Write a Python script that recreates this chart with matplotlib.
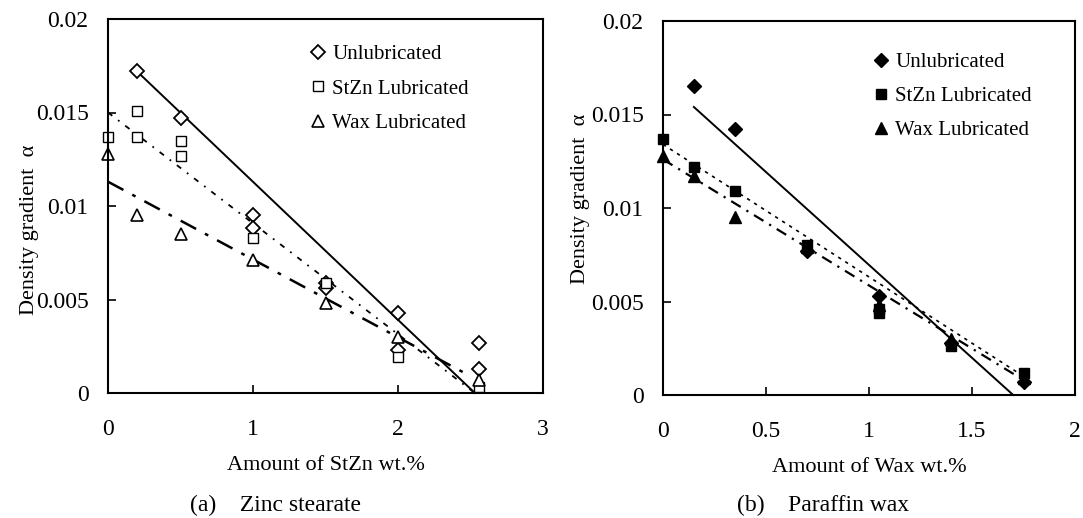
import matplotlib
matplotlib.use("Agg")
import matplotlib.pyplot as plt

plt.rcParams['font.family'] = ['Liberation Serif', 'DejaVu Serif']

# (a) zinc stearate
a_unlub_x = [0.2, 0.5, 1, 1, 1.5, 1.5, 2, 2, 2.56, 2.56]
a_unlub_y = [0.0172, 0.0147, 0.0095, 0.0088, 0.0059, 0.0056, 0.0043, 0.0023, 0.0027, 0.0013]
a_stzn_x = [0, 0.2, 0.2, 0.5, 0.5, 1, 1.5, 2, 2.56]
a_stzn_y = [0.0137, 0.0151, 0.0137, 0.0135, 0.0127, 0.0083, 0.0059, 0.0019, 0.0003]
a_wax_x = [0, 0.2, 0.5, 1, 1.5, 2, 2.56]
a_wax_y = [0.0128, 0.0095, 0.0085, 0.0071, 0.0048, 0.0030, 0.0007]
# trend lines (end points)
a_unlub_fit_x = [0.2, 2.53]
a_unlub_fit_y = [0.0172, 0.0]
a_stzn_fit_x = [0, 2.53]
a_stzn_fit_y = [0.0150, 0.0]
a_wax_fit_x = [0, 2.5]
a_wax_fit_y = [0.0113, 0.0009]

# (b) paraffin wax
b_unlub_x = [0.15, 0.35, 0.7, 1.05, 1.4, 1.75]
b_unlub_y = [0.0165, 0.0142, 0.0077, 0.0053, 0.0028, 0.0007]
b_stzn_x = [0, 0.15, 0.35, 0.7, 1.05, 1.05, 1.4, 1.75]
b_stzn_y = [0.0137, 0.0122, 0.0109, 0.0080, 0.0046, 0.0044, 0.0026, 0.0012]
b_wax_x = [0, 0.15, 0.35, 0.7, 1.05, 1.4, 1.75]
b_wax_y = [0.0128, 0.0117, 0.0095, 0.0079, 0.0048, 0.0030, 0.0009]
b_unlub_fit_x = [0.15, 1.70]
b_unlub_fit_y = [0.0154, 0.0]
b_stzn_fit_x = [0, 1.75]
b_stzn_fit_y = [0.0134, 0.0010]
b_wax_fit_x = [0, 1.75]
b_wax_fit_y = [0.0126, 0.0008]

labels = ['Unlubricated', 'StZn Lubricated', 'Wax Lubricated']
y_ticks = [0, 0.005, 0.01, 0.015, 0.02]
y_tick_labels = ['0', '0.005', '0.01', '0.015', '0.02']
a_x_ticks = [0, 1, 2, 3]
a_x_tick_labels = ['0', '1', '2', '3']
b_x_ticks = [0, 0.5, 1, 1.5, 2]
b_x_tick_labels = ['0', '0.5', '1', '1.5', '2']

FS_TICK = 17
FS_LAB = 16
FS_LEG = 15

fig = plt.figure(figsize=(10.83, 5.18), dpi=100)
ax1 = fig.add_axes([108 / 1083, 125 / 518, 435 / 1083, 374 / 518])
ax2 = fig.add_axes([663 / 1083, 123 / 518, 412 / 1083, 374 / 518])


def style_axes(ax, xt, xtl, xmax, xlabel, ylab_x, ylab_y):
    ax.set_xlim(0, xmax)
    ax.set_ylim(0, 0.02)
    ax.set_xticks(xt)
    ax.set_xticklabels(xtl)
    ax.set_yticks(y_ticks)
    ax.set_yticklabels(y_tick_labels)
    ax.tick_params(axis='x', direction='in', length=6, width=1.2, pad=19, labelsize=FS_TICK)
    ax.tick_params(axis='y', direction='in', length=6, width=1.2, pad=14, labelsize=FS_TICK)
    for s in ax.spines.values():
        s.set_linewidth(1.5)
    ax.set_xlabel(xlabel, fontsize=FS_LAB, va='center')
    ax.xaxis.set_label_coords(0.5, -0.195)
    ax.set_ylabel('Density gradient  α', fontsize=FS_LAB, va='center')
    ax.yaxis.set_label_coords(ylab_x, ylab_y)


# left panel: open markers
ax1.plot(a_unlub_fit_x, a_unlub_fit_y, color='black', lw=1.4, clip_on=False)
ax1.plot(a_stzn_fit_x, a_stzn_fit_y, color='black', lw=1.3, ls=(0, (3, 4, 1, 4)), clip_on=False)
ax1.plot(a_wax_fit_x, a_wax_fit_y, color='black', lw=1.8, ls=(0, (7, 4, 1.5, 4)), clip_on=False)
ax1.plot(a_unlub_x, a_unlub_y, 'D', ms=7, mfc='white', mec='black', mew=1.3, ls='none',
         label=labels[0], clip_on=False)
ax1.plot(a_stzn_x, a_stzn_y, 's', ms=7, mfc='white', mec='black', mew=1.0, ls='none',
         label=labels[1], clip_on=False)
ax1.plot(a_wax_x, a_wax_y, '^', ms=9, mfc='white', mec='black', mew=1.2, ls='none',
         label=labels[2], clip_on=False)
style_axes(ax1, a_x_ticks, a_x_tick_labels, 3, 'Amount of StZn wt.%', -0.180, 0.436)
ax1.legend(loc='upper left', bbox_to_anchor=(0.444, 0.953), frameon=False, fontsize=FS_LEG,
           handlelength=0.8, handletextpad=0.3, labelspacing=0.7, borderaxespad=0)

# right panel: filled markers
ax2.plot(b_unlub_fit_x, b_unlub_fit_y, color='black', lw=1.4, clip_on=False)
ax2.plot(b_stzn_fit_x, b_stzn_fit_y, color='black', lw=1.2, ls=(0, (2, 3)), clip_on=False)
ax2.plot(b_wax_fit_x, b_wax_fit_y, color='black', lw=1.6, ls=(0, (5, 3, 1, 3)), clip_on=False)
ax2.plot(b_unlub_x, b_unlub_y, 'D', ms=7, color='black', ls='none', label=labels[0], clip_on=False)
ax2.plot(b_stzn_x, b_stzn_y, 's', ms=7, color='black', ls='none', label=labels[1], clip_on=False)
ax2.plot(b_wax_x, b_wax_y, '^', ms=9, color='black', ls='none', label=labels[2], clip_on=False)
style_axes(ax2, b_x_ticks, b_x_tick_labels, 2, 'Amount of Wax wt.%', -0.200, 0.525)
ax2.legend(loc='upper left', bbox_to_anchor=(0.488, 0.938), frameon=False, fontsize=FS_LEG,
           handlelength=0.8, handletextpad=0.3, labelspacing=0.7, borderaxespad=0)

fig.text(190 / 1083, 1 - 505 / 518, '(a)    Zinc stearate', fontsize=FS_TICK, ha='left', va='center')
fig.text(737 / 1083, 1 - 505 / 518, '(b)    Paraffin wax', fontsize=FS_TICK, ha='left', va='center')

fig.savefig('out.png', dpi=100)
